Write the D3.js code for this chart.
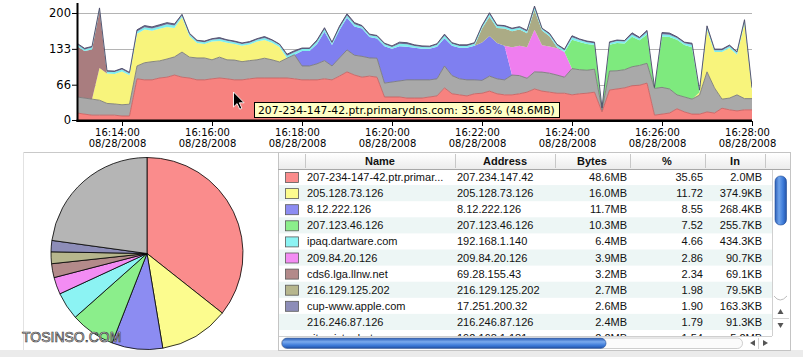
<!DOCTYPE html>
<html><head><meta charset="utf-8">
<script src="https://cdn.jsdelivr.net/npm/d3@7"></script>
<style>
html,body{margin:0;padding:0;background:#fff;overflow:hidden}
svg{display:block}
</style></head><body>
<svg id="c" width="803" height="357"></svg>
<script>
// ---------------- DATA ----------------
const sampleStart = "16:13:00";
const sampleStepSec = 10;
const xDomain = ["16:13:00", "16:28:00"];
const xTickLabels = ["16:14:00","16:16:00","16:18:00","16:20:00","16:22:00","16:24:00","16:26:00","16:28:00"];
const xTickDate = "08/28/2008";
const yTickValues = [0, 66, 133, 200];
const tooltipText = "207-234-147-42.ptr.primarydns.com: 35.65% (48.6MB)";
const watermark = "TOSINSO.COM";

const tableHeaders = ["Name", "Address", "Bytes", "%", "In"];
const hostNames = ["207-234-147-42.ptr.primar...","205.128.73.126","8.12.222.126","207.123.46.126","ipaq.dartware.com","209.84.20.126","cds6.lga.llnw.net","216.129.125.202","cup-www.apple.com","216.246.87.126","nitroviste.dartware.com"];
const hostAddresses = ["207.234.147.42","205.128.73.126","8.12.222.126","207.123.46.126","192.168.1.140","209.84.20.126","69.28.155.43","216.129.125.202","17.251.200.32","216.246.87.126","192.168.1.181"];
const hostBytes = ["48.6MB","16.0MB","11.7MB","10.3MB","6.4MB","3.9MB","3.2MB","2.7MB","2.6MB","2.4MB","2.2MB"];
const hostPercent = [35.65,11.72,8.55,7.52,4.66,2.86,2.34,1.98,1.90,1.79,1.54];
const hostIn = ["2.0MB","374.9KB","268.4KB","255.7KB","434.3KB","90.7KB","69.1KB","79.5KB","163.3KB","91.3KB","5.2MB"];
const hostColors = ["#fa8c8c","#fcfc8e","#8c8cf2","#8bee8b","#8cf3f3","#f38cf3","#b38a8a","#b6b68d","#8d8db8",null,null];
const otherColor = "#b5b5b5";

// stacked traffic, one value per 10-second sample (16:13:00 .. 16:28:00)
const trafficRed = [
 13,11,9,9,9,9,7.5,7.5,77,75,
 75,78.5,80,84,80,78.5,75,75,77,78.5,
 77,75,75,77,78.5,78.5,78.5,78.5,78.5,77,
 75,75,75,77,75,82,90,84,80,82,
 80,43,43,43,41,41,41,43,45,60,
 49,47,45,49,50,54,49,47,47,49,
 52,58,54,52,50,50,47,49,50,52,
 15,56,58,60,64,65,69,9,11,13,
 21,15,11,11,15,13,22,19,17,19,
 19];
const trafficOther = [
 30,30,30,28,22,21,21,22,24,32,
 34,32,34,34,47,39,41,41,35.5,39,
 35.5,37,34,34,34,37,34,30,37,45,
 26,26,30,34,26,34,41,37,39,34,
 35.5,26,28,30,34,34,34,32,32,41,
 34,30,30,26,24,28,28,28,37,34,
 26,32,35.5,35.5,34,30,49,45,43,43,
 4,35.5,34,34,35.5,37,37,50,50,45,
 26,28,28,35.5,75,47,17,22,30,21,
 21];
const trafficYellow = [
 0,0,0,60,56,56,62,54,60,62,
 58,60,60,54,65,39,28,26,34,30,
 32,30,30,30,34,34,32,28,0,0,
 0,0,0,0,0,0,0,0,0,0,
 0,0,0,0,0,0,0,0,0,0,
 0,0,0,0,0,0,0,0,0,0,
 0,0,0,0,0,0,0,0,0,0,
 0,0,0,0,0,0,0,0,0,0,
 0,0,0,5.6,78.5,67,88,93.5,75,140,
 15];
const trafficBrown = [
 95,88,93,107,0,0,0,0,0,0,
 0,0,0,0,0,0,0,0,0,0,
 0,0,0,0,0,0,0,0,0,0,
 0,0,0,0,0,0,0,0,0,0,
 0,0,0,0,0,0,0,0,0,0,
 0,0,0,0,0,0,0,0,0,0,
 0,0,0,0,0,0,0,0,0,0,
 0,0,0,0,0,0,0,0,0,0,
 0,0,0,0,0,0,0,0,0,0,
 0];
const trafficBlue = [
 0,0,0,0,0,0,0,0,0,0,
 0,0,0,0,0,0,0,0,0,0,
 0,0,0,0,0,0,0,0,0,0,
 28,28,37,54,39,52,60,54,52,39,
 37,69,62,65,62,60,58,58,60,52,
 56,58,60,64,71,75,67,64,0,0,
 0,0,0,0,0,0,0,0,0,0,
 0,0,0,0,0,0,0,0,0,0,
 0,0,0,0,0,0,0,0,0,0,
 0];
const trafficPink = [
 0,0,0,0,0,0,0,0,0,0,
 0,0,0,0,0,0,0,0,0,0,
 0,0,0,0,0,0,0,0,0,0,
 0,0,0,0,0,0,0,0,0,0,
 0,0,0,0,0,0,0,0,0,0,
 0,0,0,0,0,0,0,0,52,56,
 58,78.5,50,50,50,47,0,0,0,0,
 0,0,0,0,0,0,0,0,0,0,
 0,0,0,0,0,0,0,0,0,0,
 0];
const trafficGreen = [
 0,0,0,0,0,0,0,0,0,0,
 0,0,0,0,0,0,0,0,0,0,
 0,0,0,0,0,0,0,0,0,0,
 0,0,0,0,0,0,0,0,0,0,
 0,0,0,0,0,0,0,0,0,0,
 0,0,0,0,0,0,0,0,0,0,
 0,0,0,0,0,0,54,52,49,45,
 2,49,52,49,56,47,54,0,95,97,
 103,97,97,0,0,0,0,0,0,0,
 0];
const trafficOlive = [
 0,0,0,0,0,0,0,0,0,0,
 0,0,0,0,0,0,0,0,0,0,
 0,0,0,0,0,0,0,0,0,0,
 0,0,0,0,0,0,0,0,0,0,
 0,0,0,0,0,0,0,0,0,0,
 0,0,0,0,26,36,28,32,30,30,
 26,37,28,19,2,0,0,0,0,0,
 0,0,0,0,0,0,0,0,0,0,
 0,0,0,0,0,0,0,0,0,0,
 0];
const trafficCyan = [
 3.5,3,3.5,3.5,3,3.5,4,3.5,4.5,4.5,
 4,4.5,5,4.5,3.5,3.5,3,3.5,3.5,4,
 3.5,3.5,3,3.5,3.5,4,3.5,3.5,4.5,4.5,
 3.5,3.5,4.5,4.5,3.5,4.5,4.5,4,3.5,3.5,
 3.5,3.5,3.5,4.5,4.5,3.5,3.5,3,3.5,4.5,
 3.5,3.5,3.5,3.5,3.5,4.5,3.5,3.5,3.5,3.5,
 3.5,4.5,2.5,3.5,3.5,3.5,4.5,3.5,3.5,3.5,
 1,3.5,3.5,3.5,4.5,3.5,4.5,1,4.5,4.5,
 3.5,3.5,4.5,2.5,4.5,3.5,3.5,3.5,3.5,4.5,
 3.5];
const trafficSlate = [
 2,2,2,2,2,2,2,2,3,3,
 3,3,3,3,2,2,2,2,2,2.5,
 2,2,2,2,2,2.5,2,2,3,3,
 2,2,3,3,2,3,3,3,2,2,
 2,2,2,3,3,2,2,2,2,3,
 2,2,2,2,2,3,2,2,2,2,
 2,3,1.5,2,2,2,3,2,2,2,
 0.8,2,2,2,3,2,3,0.8,3,3,
 2,2,3,1.2,3,2,2,2,2,3,
 2];

// ---------------- DRAW ----------------
const svg = d3.select("#c");
const FONT_CHART = "'DejaVu Sans', Verdana, sans-serif";
const FONT_TABLE = "'Liberation Sans', Arial, sans-serif";

const tParse = d3.timeParse("%H:%M:%S");
const t0 = tParse(sampleStart);
const times = trafficRed.map((_, i) => new Date(t0.getTime() + i * sampleStepSec * 1000));

const x = d3.scaleTime().domain(xDomain.map(tParse)).range([77, 752]);
const y = d3.scaleLinear().domain([0, 200]).range([120, 13]);

const layers = [
  {key: "red",    vals: trafficRed,    color: "#f7827f", line: "#c86262"},
  {key: "other",  vals: trafficOther,  color: "#a9a9a9", line: "#7c7c7c"},
  {key: "yellow", vals: trafficYellow, color: "#f8f47c", line: null},
  {key: "brown",  vals: trafficBrown,  color: "#a97d7f", line: null},
  {key: "blue",   vals: trafficBlue,   color: "#7f7ff0", line: null},
  {key: "pink",   vals: trafficPink,   color: "#ef7eef", line: null},
  {key: "green",  vals: trafficGreen,  color: "#7eea7e", line: null},
  {key: "olive",  vals: trafficOlive,  color: "#abab85", line: null},
  {key: "cyan",   vals: trafficCyan,   color: "#7eeeee", line: null},
  {key: "slate",  vals: trafficSlate,  color: "#6c6c94", line: "#4a4a66"}
];
const rows = times.map((t, i) => {
  const r = {t};
  layers.forEach(L => r[L.key] = L.vals[i]);
  return r;
});
const stacked = d3.stack().keys(layers.map(L => L.key))(rows);

svg.append("clipPath").attr("id", "plotClip")
  .append("rect").attr("x", 78).attr("y", 0).attr("width", 674).attr("height", 120);

// gridlines
svg.append("g").selectAll("line").data(yTickValues.filter(v => v > 0)).join("line")
  .attr("x1", 77).attr("x2", 752)
  .attr("y1", d => Math.round(y(d)) + 0.5).attr("y2", d => Math.round(y(d)) + 0.5)
  .attr("stroke", "#b4b4b4").attr("stroke-width", 1);

const plot = svg.append("g").attr("clip-path", "url(#plotClip)");
const area = d3.area().x(d => x(d.data.t)).y0(d => y(d[0])).y1(d => y(d[1]));
const topLine = d3.line().x(d => x(d.data.t)).y(d => y(d[1]));
stacked.forEach((s, k) => {
  plot.append("path").attr("d", area(s)).attr("fill", layers[k].color).attr("stroke", "none");
});
stacked.forEach((s, k) => {
  if (layers[k].line) {
    plot.append("path").attr("d", topLine(s)).attr("fill", "none")
      .attr("stroke", layers[k].line).attr("stroke-width", 0.9);
  }
});

// axes
const yAxis = d3.axisLeft(y).tickValues(yTickValues).tickSize(5).tickFormat(d => d);
const gy = svg.append("g").attr("transform", "translate(77,0)").call(yAxis);
gy.select(".domain").remove();
gy.selectAll(".tick line").attr("stroke", "#000");
gy.selectAll(".tick text").attr("x", -6).attr("fill", "#000")
  .style("font-family", FONT_CHART).style("font-size", "11.5px");

const xAxis = d3.axisBottom(x).tickValues(xTickLabels.map(tParse)).tickSize(5).tickFormat(d3.timeFormat("%H:%M:%S"));
const gx = svg.append("g").attr("transform", "translate(0,121)").call(xAxis);
gx.select(".domain").remove();
gx.selectAll(".tick line").attr("stroke", "#000");
gx.selectAll(".tick text").each(function(d) {
  const t = d3.select(this);
  const label = d3.timeFormat("%H:%M:%S")(d);
  t.text(null).attr("y", 0).attr("dy", null).attr("fill", "#000")
    .style("font-family", FONT_CHART).style("font-size", "10px");
  t.append("tspan").attr("x", -5).attr("y", 15).text(label);
  t.append("tspan").attr("x", -5).attr("y", 25.5).text(xTickDate);
});

svg.append("line").attr("x1", 77.5).attr("x2", 77.5).attr("y1", 3).attr("y2", 122)
  .attr("stroke", "#000").attr("stroke-width", 2);
svg.append("line").attr("x1", 76.5).attr("x2", 752).attr("y1", 120.75).attr("y2", 120.75)
  .attr("stroke", "#000").attr("stroke-width", 2.5);

// tooltip
const tipG = svg.append("g");
tipG.append("rect").attr("x", 254.5).attr("y", 102.5).attr("width", 305).attr("height", 15)
  .attr("fill", "#ffffc6").attr("stroke", "#000").attr("stroke-width", 1);
const tipT = tipG.append("text").attr("x", 258).attr("y", 114.3).attr("fill", "#000")
  .style("font-family", FONT_CHART).style("font-size", "11px").text(tooltipText);
const tl = tipT.node().getComputedTextLength();
if (tl > 0) tipT.style("font-size", (11 * 297 / tl).toFixed(2) + "px");

// mouse cursor
svg.append("path")
  .attr("d", "M0,0 L0,15 L3.6,11.6 L6.2,17.2 L8.4,16.2 L5.8,10.8 L10.6,10.8 Z")
  .attr("transform", "translate(233.5,92)")
  .attr("fill", "#000").attr("stroke", "#fff").attr("stroke-width", 0.9);

// panel lines
svg.append("rect").attr("x", 0).attr("y", 350).attr("width", 803).attr("height", 7).attr("fill", "#ebebeb");
svg.append("line").attr("x1", 23).attr("x2", 278).attr("y1", 152.5).attr("y2", 152.5).attr("stroke", "#c9c9c9");
svg.append("line").attr("x1", 23.5).attr("x2", 23.5).attr("y1", 152).attr("y2", 350).attr("stroke", "#e2e2e2");

// pie
const pieVals = hostPercent.slice(0, 9).concat([100 - d3.sum(hostPercent.slice(0, 9))]);
const pieCols = hostColors.slice(0, 9).concat([otherColor]);
const pieArcs = d3.pie().sort(null).value(d => d)(pieVals);
const arcGen = d3.arc().innerRadius(0).outerRadius(96);
svg.append("g").attr("transform", "translate(147,253.5)")
  .selectAll("path").data(pieArcs).join("path")
  .attr("d", arcGen).attr("fill", (d, i) => pieCols[i])
  .attr("stroke", "#000").attr("stroke-width", 0.8);

// watermark
svg.append("text").attr("x", 22).attr("y", 342).text(watermark)
  .style("font-family", FONT_TABLE).style("font-size", "14px")
  .attr("fill", "#f4f4f4").attr("stroke", "#3a3a3a").attr("stroke-width", 0.7);

// ---------------- TABLE ----------------
const tb = svg.append("g");
const TX0 = 278, TX1 = 790, TY0 = 152, HEAD_H = 17, ROW_H = 16.1;
tb.append("rect").attr("x", TX0 + 0.5).attr("y", TY0 + 0.5).attr("width", TX1 - TX0).attr("height", 198)
  .attr("fill", "#fff").attr("stroke", "#c4c4c4");

const defs = svg.append("defs");
const hg = defs.append("linearGradient").attr("id", "headGrad").attr("x1", 0).attr("x2", 0).attr("y1", 0).attr("y2", 1);
hg.append("stop").attr("offset", 0).attr("stop-color", "#ffffff");
hg.append("stop").attr("offset", 1).attr("stop-color", "#ececec");
tb.append("rect").attr("x", TX0 + 1).attr("y", TY0 + 1).attr("width", TX1 - TX0 - 1).attr("height", HEAD_H - 1)
  .attr("fill", "url(#headGrad)");
tb.append("line").attr("x1", TX0).attr("x2", TX1).attr("y1", TY0 + HEAD_H + 0.5).attr("y2", TY0 + HEAD_H + 0.5)
  .attr("stroke", "#a8a8a8");
const colSeps = [305, 455, 555, 630, 705, 765];
tb.selectAll("line.sep").data(colSeps).join("line").attr("class", "sep")
  .attr("x1", d => d + 0.5).attr("x2", d => d + 0.5).attr("y1", TY0 + 2).attr("y2", TY0 + HEAD_H - 1)
  .attr("stroke", "#c8c8c8");
const headCenters = [380, 505, 592, 667, 735];
tb.selectAll("text.head").data(tableHeaders).join("text").attr("class", "head")
  .attr("x", (d, i) => headCenters[i]).attr("y", TY0 + 13.2).attr("text-anchor", "middle")
  .style("font-family", FONT_TABLE).style("font-size", "11px").style("font-weight", "bold")
  .attr("fill", "#111").text(d => d);

defs.append("clipPath").attr("id", "rowClip").append("rect")
  .attr("x", TX0 + 1).attr("y", TY0 + HEAD_H + 1).attr("width", 493).attr("height", 167);
const rowsG = tb.append("g").attr("clip-path", "url(#rowClip)");
hostNames.forEach((nm, k) => {
  const top = TY0 + HEAD_H + ROW_H * k;
  const g = rowsG.append("g");
  if (k % 2 === 1) g.append("rect").attr("x", TX0 + 1).attr("y", top).attr("width", 493).attr("height", ROW_H)
    .attr("fill", "#edf6f5");
  if (hostColors[k]) g.append("rect").attr("x", 285.5).attr("y", top + 3.5).attr("width", 13).attr("height", 10)
    .attr("fill", hostColors[k]).attr("stroke", "#5a5a5a").attr("stroke-width", 0.8);
  const base = top + 12;
  const txt = (xx, s, anchor) => g.append("text").attr("x", xx).attr("y", base).attr("text-anchor", anchor)
    .style("font-family", FONT_TABLE).style("font-size", "11px").attr("fill", "#111").text(s);
  txt(307, nm, "start");
  txt(457, hostAddresses[k], "start");
  txt(627, hostBytes[k], "end");
  txt(703, hostPercent[k].toFixed(2), "end");
  txt(762, hostIn[k], "end");
});

// vertical scrollbar
const vg = defs.append("linearGradient").attr("id", "vThumb").attr("x1", 0).attr("x2", 1).attr("y1", 0).attr("y2", 0);
vg.append("stop").attr("offset", 0).attr("stop-color", "#2c5fb8");
vg.append("stop").attr("offset", 0.35).attr("stop-color", "#6fa3ea");
vg.append("stop").attr("offset", 0.7).attr("stop-color", "#3d7bd9");
vg.append("stop").attr("offset", 1).attr("stop-color", "#2454a8");
const hgr = defs.append("linearGradient").attr("id", "hThumb").attr("x1", 0).attr("x2", 0).attr("y1", 0).attr("y2", 1);
hgr.append("stop").attr("offset", 0).attr("stop-color", "#2c5fb8");
hgr.append("stop").attr("offset", 0.35).attr("stop-color", "#7aaaee");
hgr.append("stop").attr("offset", 0.7).attr("stop-color", "#3d7bd9");
hgr.append("stop").attr("offset", 1).attr("stop-color", "#2454a8");

tb.append("line").attr("x1", 772.5).attr("x2", 772.5).attr("y1", 170).attr("y2", 336).attr("stroke", "#d0d0d0");
tb.append("rect").attr("x", 775).attr("y", 176).attr("width", 11.5).attr("height", 49).attr("rx", 5.5)
  .attr("fill", "url(#vThumb)").attr("stroke", "#1f4a95").attr("stroke-width", 0.6);
tb.append("path").attr("d", "M774,296 Q780,304 787,296").attr("fill", "none").attr("stroke", "#bdbdbd");
tb.append("line").attr("x1", 773).attr("x2", 789).attr("y1", 318.5).attr("y2", 318.5).attr("stroke", "#d0d0d0");
tb.append("path").attr("d", "M777.5,314 L783.5,314 L780.5,309 Z").attr("fill", "#555");
tb.append("path").attr("d", "M777.5,323 L783.5,323 L780.5,328 Z").attr("fill", "#555");

// horizontal scrollbar
tb.append("line").attr("x1", 279).attr("x2", 772).attr("y1", 336.5).attr("y2", 336.5).attr("stroke", "#cfcfcf");
tb.append("rect").attr("x", 281.5).attr("y", 338).attr("width", 461).attr("height", 10.5).attr("rx", 5.2)
  .attr("fill", "#fbfbfb").attr("stroke", "#c2c2c2").attr("stroke-width", 0.8);
tb.append("rect").attr("x", 282).attr("y", 338.3).attr("width", 324).attr("height", 10).attr("rx", 5)
  .attr("fill", "url(#hThumb)").attr("stroke", "#1f4a95").attr("stroke-width", 0.6);
tb.append("line").attr("x1", 758.5).attr("x2", 758.5).attr("y1", 338).attr("y2", 349).attr("stroke", "#d0d0d0");
tb.append("path").attr("d", "M755,340 L755,346 L750,343 Z").attr("fill", "#555");
tb.append("path").attr("d", "M763,340 L763,346 L768,343 Z").attr("fill", "#555");
</script>
</body></html>
